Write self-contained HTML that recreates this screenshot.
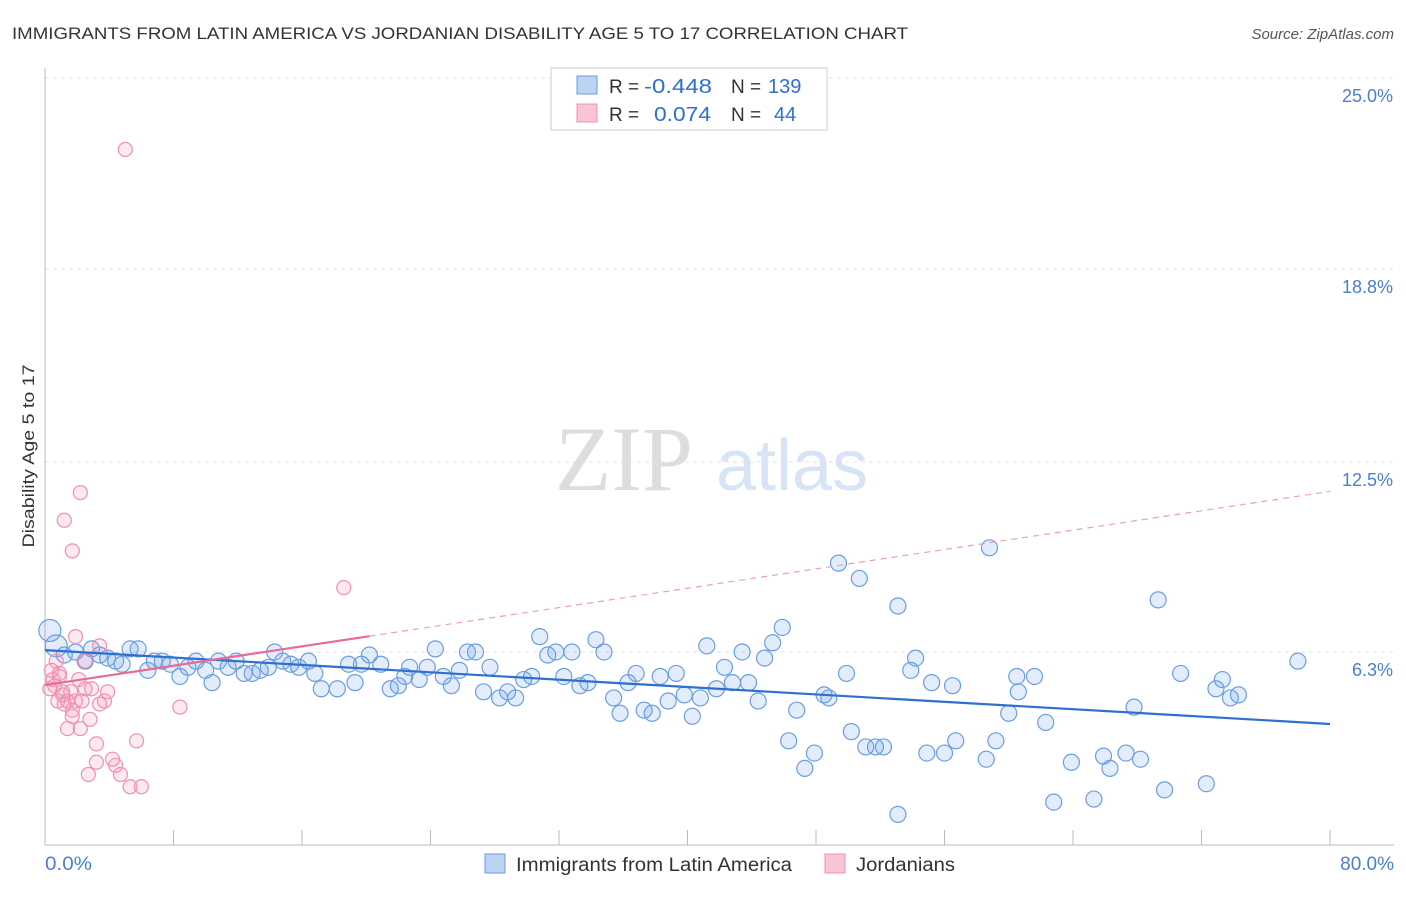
<!DOCTYPE html>
<html><head><meta charset="utf-8"><style>
body{margin:0;background:#fff;font-family:"Liberation Sans",sans-serif}
</style></head><body>
<svg width="1406" height="892" xmlns="http://www.w3.org/2000/svg" style="font-family:'Liberation Sans',sans-serif">
<text x="12" y="39" font-size="17" fill="#333" textLength="896" lengthAdjust="spacingAndGlyphs">IMMIGRANTS FROM LATIN AMERICA VS JORDANIAN DISABILITY AGE 5 TO 17 CORRELATION CHART</text>
<text x="1394" y="39" font-size="15" fill="#555" font-style="italic" text-anchor="end">Source: ZipAtlas.com</text>
<text x="555" y="490" font-size="92" fill="#ddd" font-family="Liberation Serif">ZIP</text>
<text x="716" y="490" font-size="72" fill="#d6e4f5">atlas</text>
<g id="grid"></g>
<g id="axes"></g>
<g id="pts"></g>
<g id="trend"></g>
<text x="34" y="456" font-size="17" fill="#333" text-anchor="middle" textLength="183" lengthAdjust="spacingAndGlyphs" transform="rotate(-90 34 456)">Disability Age 5 to 17</text>
<text x="45" y="870" font-size="19" fill="#4a7fd0" textLength="47" lengthAdjust="spacingAndGlyphs">0.0%</text>
<text x="1394" y="870" font-size="19" fill="#4a7fd0" text-anchor="end">80.0%</text>
<g>
<rect x="551" y="68" width="276" height="62" fill="#fff" stroke="#ccc"/>
<rect x="577" y="76" width="20" height="18" fill="#bcd3f3" stroke="#6a9ee0"/>
<rect x="577" y="104" width="20" height="18" fill="#f9c4d4" stroke="#f090b0"/>
<text x="609" y="93" font-size="19" fill="#333">R =</text>
<text x="644" y="93" font-size="20" fill="#2f6fd0" textLength="68" lengthAdjust="spacingAndGlyphs">-0.448</text>
<text x="731" y="93" font-size="19" fill="#333">N =</text>
<text x="768" y="93" font-size="20" fill="#2f6fd0">139</text>
<text x="609" y="121" font-size="19" fill="#333">R =</text>
<text x="654" y="121" font-size="20" fill="#2f6fd0" textLength="57" lengthAdjust="spacingAndGlyphs">0.074</text>
<text x="731" y="121" font-size="19" fill="#333">N =</text>
<text x="774" y="121" font-size="20" fill="#2f6fd0">44</text>
</g>
<g>
<rect x="485" y="854" width="20" height="19" fill="#bcd3f3" stroke="#6a9ee0"/>
<text x="516" y="871" font-size="19" fill="#333" textLength="276" lengthAdjust="spacingAndGlyphs">Immigrants from Latin America</text>
<rect x="825" y="854" width="20" height="19" fill="#f9c4d4" stroke="#f090b0"/>
<text x="856" y="871" font-size="19" fill="#333" textLength="99" lengthAdjust="spacingAndGlyphs">Jordanians</text>
</g>
</svg>
<script>
const yTicks=[6.3,12.5,18.8,25.0];
const xTicks=[0,8,16,24,32,40,48,56,64,72,80];
const blueX=[0.3,0.7,1.2,1.9,2.5,2.9,3.4,3.9,4.4,4.8,5.3,5.8,6.4,6.8,7.3,7.8,8.4,8.9,9.4,10.0,10.4,10.8,11.4,11.9,12.4,12.9,13.4,13.9,14.3,14.8,15.3,15.8,16.4,16.8,17.2,18.2,18.9,19.3,19.7,20.2,20.9,21.5,22.0,22.4,22.7,23.3,23.8,24.3,24.8,25.3,25.8,26.3,26.8,27.3,27.7,28.3,28.8,29.3,29.8,30.3,30.8,31.3,31.8,32.3,32.8,33.3,33.8,34.3,34.8,35.4,35.8,36.3,36.8,37.3,37.8,38.3,38.8,39.3,39.8,40.3,40.8,41.2,41.8,42.3,42.8,43.4,43.8,44.4,44.8,45.3,45.9,46.3,46.8,47.3,47.9,48.5,48.8,49.4,49.9,50.2,50.7,51.1,51.7,52.2,53.1,53.1,53.9,54.2,54.9,55.2,56.0,56.5,56.7,58.6,58.8,59.2,60.0,60.5,60.6,61.6,62.3,62.8,63.9,65.3,65.9,66.3,67.3,67.8,68.2,69.3,69.7,70.7,72.3,72.9,73.3,73.8,74.3,78.0];
const blueY=[7.0,6.5,6.2,6.3,6.0,6.4,6.2,6.1,6.0,5.9,6.4,6.4,5.7,6.0,6.0,5.9,5.5,5.8,6.0,5.7,5.3,6.0,5.8,6.0,5.6,5.6,5.7,5.8,6.3,6.0,5.9,5.8,6.0,5.6,5.1,5.1,5.9,5.3,5.9,6.2,5.9,5.1,5.2,5.5,5.8,5.4,5.8,6.4,5.5,5.2,5.7,6.3,6.3,5.0,5.8,4.8,5.0,4.8,5.4,5.5,6.8,6.2,6.3,5.5,6.3,5.2,5.3,6.7,6.3,4.8,4.3,5.3,5.6,4.4,4.3,5.5,4.7,5.6,4.9,4.2,4.8,6.5,5.1,5.8,5.3,6.3,5.3,4.7,6.1,6.6,7.1,3.4,4.4,2.5,3.0,4.9,4.8,9.2,5.6,3.7,8.7,3.2,3.2,3.2,7.8,1.0,5.7,6.1,3.0,5.3,3.0,5.2,3.4,2.8,9.7,3.4,4.3,5.5,5.0,5.5,4.0,1.4,2.7,1.5,2.9,2.5,3.0,4.5,2.8,8.0,1.8,5.6,2.0,5.1,5.4,4.8,4.9,6.0];
const pinkX=[0.3,0.5,0.6,0.7,0.8,0.9,1.1,1.2,1.4,1.6,1.7,1.9,1.7,1.2,2.2,1.9,2.2,2.3,2.5,2.7,2.8,2.9,3.2,3.2,3.4,3.7,3.9,4.2,4.4,4.7,5.3,5.7,6.0,5.0,8.4,18.6,0.9,0.4,1.4,1.7,2.1,1.1,2.5,3.4];
const pinkY=[5.1,5.4,5.2,6.0,4.7,5.5,5.0,4.6,3.8,5.0,4.4,6.8,9.6,10.6,11.5,4.7,3.8,4.7,6.0,2.3,4.1,5.1,3.3,2.7,6.5,4.7,5.0,2.8,2.6,2.3,1.9,3.4,1.9,22.7,4.5,8.4,5.6,5.7,4.7,4.2,5.4,4.9,5.1,4.6];
const blueTrend=[6.36,3.95];
const pinkTrend=[5.22,0.079];
const NS='http://www.w3.org/2000/svg';
const sx=v=>45+v*16.0625, sy=v=>845-v*30.64;
function mk(p,tag,at){const e=document.createElementNS(NS,tag);for(const k in at)e.setAttribute(k,at[k]);p.appendChild(e);return e;}
const grid=document.getElementById('grid'),axes=document.getElementById('axes'),pts=document.getElementById('pts'),tr=document.getElementById('trend');
yTicks.forEach(t=>{const y=sy(t)+(t==25?-1:0);
 const l=mk(grid,'line',{x1:45,x2:1394,y1:y,y2:y,stroke:'#e2e2e2','stroke-dasharray':'4 4'});
 
 
 const tx=mk(grid,'text',{x:1393,y:y+24,'font-size':18,fill:'#4a7fd0','text-anchor':'end'});tx.textContent=t.toFixed(1)+'%';
 
 });
const ya=mk(axes,'line',{x1:45,x2:45,y1:68,y2:845,stroke:'#bbb'});


const xa=mk(axes,'line',{x1:45,x2:1394,y1:845,y2:845,stroke:'#bbb'});


xTicks.forEach(t=>{const l=mk(axes,'line',{x1:sx(t),x2:sx(t),y1:830,y2:845,stroke:'#bbb'});
 
 });
blueX.forEach((v,i)=>{const c=mk(pts,'circle',{cx:sx(v),cy:sy(blueY[i]),r:i<2?11:8,fill:'rgba(110,160,230,0.2)',stroke:'#6a9ee0','stroke-width':1.2});
 
 });
pinkX.forEach((v,i)=>{const c=mk(pts,'circle',{cx:sx(v),cy:sy(pinkY[i]),r:7,fill:'rgba(245,150,180,0.2)',stroke:'#f090b0','stroke-width':1.2});
 
 });
const bt=mk(tr,'line',{x1:sx(0),y1:sy(blueTrend[0]),x2:sx(80),y2:sy(blueTrend[1]),stroke:'#2f6fd0','stroke-width':2.2});


const pe=20.2;
const pt=mk(tr,'line',{x1:sx(0),y1:sy(pinkTrend[0]),x2:sx(pe),y2:sy(pinkTrend[0]+pinkTrend[1]*pe),stroke:'#e86a95','stroke-width':2.2});


const pd=mk(tr,'line',{x1:sx(pe),y1:sy(pinkTrend[0]+pinkTrend[1]*pe),x2:sx(80),y2:sy(pinkTrend[0]+pinkTrend[1]*80),stroke:'#e8a0b8','stroke-width':1.2,'stroke-dasharray':'6 5'});


</script>
</body></html>
